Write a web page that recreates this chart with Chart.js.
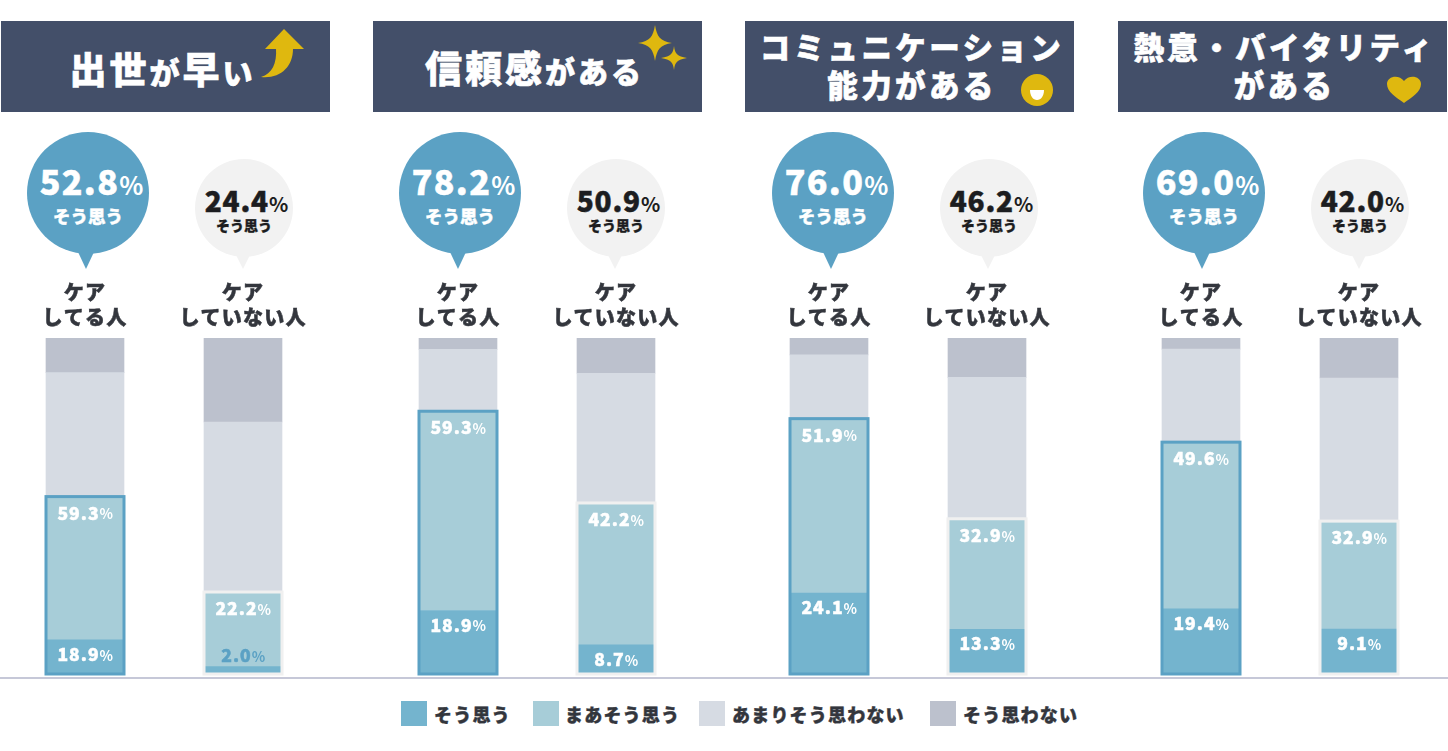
<!DOCTYPE html>
<html lang="ja">
<head>
<meta charset="utf-8">
<title>ケアと印象</title>
<script src="https://cdn.jsdelivr.net/npm/chart.js@4"></script>
<style>
  html, body { margin: 0; padding: 0; background: #fff; }
  body { width: 1448px; height: 751px; position: relative; overflow: hidden;
         font-family: "Noto Sans CJK JP", "Noto Sans", sans-serif; font-weight: 900; }
  canvas { position: absolute; }
  .head { position: absolute; top: 21px; width: 329px; height: 91px; background: #434f69; color: #fff; }
  .head div { position: absolute; width: 100%; text-align: center; white-space: nowrap; line-height: 40px; -webkit-text-stroke: 0.6px #fff; }
  .head svg { position: absolute; left: 0; top: 0; overflow: visible; }
  .bubble { position: absolute; border-radius: 50%; }
  .bubble::after { content: ""; position: absolute; top: 100%; left: 50%; width: 0; height: 0; }
  .big { background: #5ba1c4; color: #fff; width: 122px; height: 122px; top: 132px; }
  .big::after { border-left: 8px solid transparent; border-right: 8px solid transparent; border-top: 17px solid #5ba1c4; margin: -2px 0 0 -10px; }
  .small { background: #f2f2f2; color: #1c1d20; width: 98px; height: 98px; top: 159px; }
  .small::after { border-left: 7px solid transparent; border-right: 7px solid transparent; border-top: 14px solid #f2f2f2; margin: -2px 0 0 -8px; }
  .num, .sub { position: absolute; white-space: nowrap; text-align: center; left: -20px; right: -20px; line-height: 1; }
  .big .num { top: 32px; font-size: 34px; letter-spacing: 1.4px; left: -13px; right: -20px; -webkit-text-stroke: 0.5px #fff; }
  .big .num small { font-size: 25px; letter-spacing: 0; -webkit-text-stroke: 0; font-weight: 700; }
  .big .sub { top: 75px; font-size: 17.5px; -webkit-text-stroke: 0.4px #fff; }
  .small .num { top: 27px; font-size: 28px; letter-spacing: 0.8px; left: -15px; right: -20px; -webkit-text-stroke: 0.5px #1c1d20; }
  .small .num small { font-size: 20px; letter-spacing: 0; -webkit-text-stroke: 0; font-weight: 700; }
  .small .sub { top: 59px; font-size: 14px; -webkit-text-stroke: 0.3px #1c1d20; }
  #baseline { position: absolute; left: 0; top: 677px; width: 1448px; height: 1.5px; background: #c6c8d8; }
  #legend span { position: absolute; top: 701px; width: 26px; height: 25px; }
  #legend b { position: absolute; top: 703px; font-size: 18px; line-height: 22px; letter-spacing: 1.2px; color: #33363d; white-space: nowrap; font-weight: 900; -webkit-text-stroke: 0.4px #33363d; }
</style>
</head>
<body>
<div id="baseline"></div>
<div id="legend"></div>
<script>
// 4 panels, 2 bars each (care / no care)
const titles = [
  ["<k>出世</k>が<k>早</k>い"],
  ["<k>信頼感</k>がある"],
  ["コミュニケーション", "能力がある"],
  ["熱意・バイタリティ", "がある"],
];
const groupLabels = [["ケア", "してる人"], ["ケア", "していない人"]];
const seriesNames = ["そう思う", "まあそう思う", "あまりそう思わない", "そう思わない"];
const seriesColors = ["#74b4ce", "#a7cdd8", "#d6dbe3", "#bcc1cd"];

// segment heights, care/no care per panel
const agree     = [10.2, 2.2, 18.9, 8.7, 24.1, 13.3, 19.4, 13.4];
const mostly    = [42.6, 22.2, 59.3, 42.2, 51.9, 32.9, 49.6, 32.1];
const notReally = [36.9, 50.6, 18.4, 38.6, 19.0, 42.1, 27.7, 42.6];
const notAtAll  = [10.3, 25.0, 3.4, 10.5, 5.0, 11.7, 3.3, 11.9];

// the numbers as printed (they don't always fit the bar heights in the original)
const agreeLabels  = ["18.9", "2.0", "18.9", "8.7", "24.1", "13.3", "19.4", "9.1"];
const mostlyLabels = ["59.3", "22.2", "59.3", "42.2", "51.9", "32.9", "49.6", "32.9"];
const bubbleValues = ["52.8", "24.4", "78.2", "50.9", "76.0", "46.2", "69.0", "42.0"];

const headLeft   = [1, 373, 745, 1118];
const canvasLeft = [6, 379, 750, 1122];
const bubbleLeft = [27, 195, 399, 567, 772, 940, 1143, 1311];
const titleTops  = [[27], [26], [5, 43], [5, 43]];
const titleShift = [-3, -3, 2.5, 2];

const yellow = "#dfb80f";
const icons = [
  `<path d="M283 8 L303 28 L292 28 C292 46 279 58 260 56 C271 53 276 42 275 28 L264 28 Z" fill="${yellow}"/>`,
  `<path d="M282 4 C284 16 287 20 299 22 C287 24 284 28 282 40 C280 28 277 24 265 22 C277 20 280 16 282 4 Z" fill="${yellow}"/>
   <path d="M301 25 C302 33 304 35 314 37 C304 39 302 41 301 49 C300 41 298 39 288 37 C298 35 300 33 301 25 Z" fill="${yellow}"/>`,
  `<circle cx="292" cy="69" r="16" fill="${yellow}"/><path d="M285 69 H299 C299 75 296 79 292 79 C288 79 285 75 285 69 Z" fill="#fff"/>`,
  `<path d="M286 82 C278 76 269 71 269 63 C269 55 281 53 286 60 C291 53 303 55 303 63 C303 71 294 76 286 82 Z" fill="${yellow}"/>`,
];

// headers
titles.forEach((lines, i) => {
  const h = document.createElement("div");
  h.className = "head";
  h.style.left = headLeft[i] + "px";
  lines.forEach((t, j) => {
    const d = document.createElement("div");
    d.style.left = titleShift[i] + "px";
    d.style.top = titleTops[i][j] + "px";
    d.style.fontSize = lines.length > 1 ? "30.5px" : "30px";
    d.style.letterSpacing = lines.length > 1 ? "3.4px" : "3px";
    d.innerHTML = t.replace(/<k>/g, '<span style="font-size:37px;letter-spacing:3px">').replace(/<\/k>/g, "</span>");
    h.appendChild(d);
  });
  h.insertAdjacentHTML("beforeend", `<svg width="329" height="91">${icons[i]}</svg>`);
  document.body.appendChild(h);
});

// bubbles
bubbleValues.forEach((v, i) => {
  const b = document.createElement("div");
  b.className = "bubble " + (i % 2 ? "small" : "big");
  b.style.left = bubbleLeft[i] + "px";
  b.innerHTML = `<div class="num">${v}<small>%</small></div><div class="sub">${seriesNames[0]}</div>`;
  document.body.appendChild(b);
});

// legend
const legendX = [401, 533, 699, 930];
const legendTextX = [434, 565, 732, 963];
const legendEl = document.getElementById("legend");
seriesNames.forEach((n, i) => {
  legendEl.insertAdjacentHTML("beforeend",
    `<span style="left:${legendX[i]}px;background:${seriesColors[i]}"></span><b style="left:${legendTextX[i]}px">${n}</b>`);
});

// outline round the "agree" part and the numbers inside it
const overlay = {
  id: "overlay",
  beforeDraw(chart) {
    chart.ctx.letterSpacing = "1.2px"; // for the tick labels
  },
  afterDatasetsDraw(chart) {
    const { ctx, scales } = chart;
    const panel = chart.options.plugins.overlay.panel;
    const bars = chart.getDatasetMeta(0).data;
    ctx.save();
    bars.forEach((bar, k) => {
      const idx = panel * 2 + k;
      const y0 = scales.y.getPixelForValue(0);
      const y1 = scales.y.getPixelForValue(agree[idx]);
      const y2 = scales.y.getPixelForValue(agree[idx] + mostly[idx]);
      ctx.lineWidth = 3;
      ctx.strokeStyle = k === 0 ? "#5ba1c4" : "#f0f0f0";
      ctx.strokeRect(bar.x - 39, y2, 78, y0 - y2);
      // low bar: number goes above the sliver, in blue
      const tiny = y0 - y1 < 20;
      barLabel(ctx, mostlyLabels[idx], bar.x, y2 + 16.5, "#fff");
      barLabel(ctx, agreeLabels[idx], bar.x, tiny ? y1 - 11 : y1 + 14.5, tiny ? "#5ba1c4" : "#fff");
    });
    ctx.restore();
  },
};

function barLabel(ctx, text, x, y, color) {
  ctx.fillStyle = color;
  ctx.strokeStyle = color;
  ctx.lineWidth = 0.5;
  ctx.textBaseline = "middle";
  ctx.textAlign = "left";
  ctx.letterSpacing = "1px";
  ctx.font = '900 17.5px "Noto Sans CJK JP"';
  const w1 = ctx.measureText(text).width;
  const left = x - (w1 + 13) / 2;
  ctx.fillText(text, left, y);
  ctx.strokeText(text, left, y);
  ctx.font = '700 14px "Noto Sans CJK JP"';
  ctx.letterSpacing = "0px";
  ctx.fillText("%", left + w1, y + 1);
}

const allSeries = [agree, mostly, notReally, notAtAll];

titles.forEach((_, p) => {
  const cv = document.createElement("canvas");
  cv.style.left = canvasLeft[p] + "px";
  cv.style.top = "270px";
  cv.style.width = "316px";
  cv.style.height = "410px";
  cv.width = 316;
  cv.height = 410;
  document.body.appendChild(cv);

  new Chart(cv, {
    type: "bar",
    data: {
      labels: groupLabels,
      datasets: allSeries.map((s, i) => ({
        label: seriesNames[i],
        data: s.slice(p * 2, p * 2 + 2),
        backgroundColor: seriesColors[i],
        borderWidth: 0,
        barThickness: 78,
      })),
    },
    options: {
      responsive: false,
      animation: false,
      layout: { padding: { bottom: 6, top: 0, left: 0, right: 0 } },
      plugins: { legend: { display: false }, tooltip: { enabled: false }, overlay: { panel: p } },
      scales: {
        x: {
          position: "top",
          stacked: true,
          grid: { display: false },
          border: { display: false },
          afterFit: (s) => { s.height = 68; },
          ticks: {
            color: "#33363d",
            textStrokeColor: "#33363d",
            textStrokeWidth: 0.5,
            padding: 0,
            maxRotation: 0,
            font: { family: '"Noto Sans CJK JP"', size: 20, weight: "900", lineHeight: 1.25 },
          },
        },
        y: {
          display: false,
          stacked: true,
          min: 0,
          max: 100,
        },
      },
    },
    plugins: [overlay],
  });
});
</script>
</body>
</html>
